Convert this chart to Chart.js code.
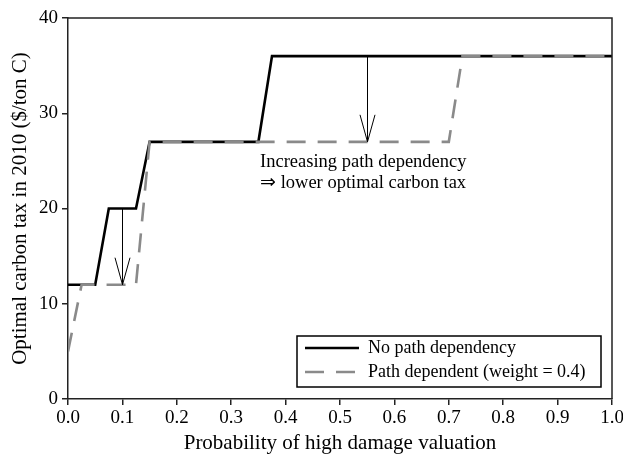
<!DOCTYPE html>
<html>
<head>
<meta charset="utf-8">
<script src="https://cdn.jsdelivr.net/npm/chart.js@4/dist/chart.umd.min.js"></script>
<style>
  html, body { margin: 0; padding: 0; background: #fff; }
  #chart { display: block; }
</style>
</head>
<body>
<canvas id="chart" width="623" height="456"></canvas>
<script>
// ── Dados ─────────────────────────────────────────────────────────────────────
const noPathX = [0, 0.05, 0.075, 0.125, 0.15, 0.35, 0.375, 1.0];
const noPathY = [12, 12, 20, 20, 27, 27, 36, 36];

const pathDepX = [0, 0.025, 0.125, 0.15, 0.70, 0.725, 1.0];
const pathDepY = [5, 12, 12, 27, 27, 36, 36];

const xTicks = [0, 0.1, 0.2, 0.3, 0.4, 0.5, 0.6, 0.7, 0.8, 0.9, 1.0];
const yTicks = [0, 10, 20, 30, 40];

// setas: x, de, até
const arrows = [
  { x: 0.10, from: 20, to: 12 },
  { x: 0.55, from: 36, to: 27 },
];

const noteLines = ['Increasing path dependency', '\u21D2 lower optimal carbon tax'];
const noteAt = { x: 0.353, y: [24.9, 22.7] };

const FONT = 'Liberation Serif, Times New Roman, serif';
const AXIS = '#222';
const GRAY = '#8a8a8a';

// ── Plugin: moldura, setas, texto e legenda ──────────────────────────────────
const extras = {
  id: 'extras',
  afterDatasetsDraw(chart) {
    const { ctx, chartArea: a, scales: { x, y } } = chart;
    ctx.save();

    // moldura superior / direita
    ctx.strokeStyle = AXIS;
    ctx.lineWidth = 1.5;
    ctx.beginPath();
    ctx.moveTo(a.left, a.top);
    ctx.lineTo(a.right, a.top);
    ctx.lineTo(a.right, a.bottom);
    ctx.stroke();

    // setas
    ctx.strokeStyle = '#000';
    ctx.lineWidth = 1;
    arrows.forEach(ar => {
      const px = Math.round(x.getPixelForValue(ar.x)) + 0.5;
      const y0 = y.getPixelForValue(ar.from);
      const y1 = y.getPixelForValue(ar.to);
      ctx.beginPath();
      ctx.moveTo(px, y0);
      ctx.lineTo(px, y1);
      ctx.moveTo(px - 7.5, y1 - 27);
      ctx.lineTo(px, y1);
      ctx.lineTo(px + 7.5, y1 - 27);
      ctx.stroke();
    });

    // anotação
    ctx.fillStyle = '#000';
    ctx.font = '18.5px ' + FONT;
    ctx.textBaseline = 'middle';
    ctx.textAlign = 'left';
    noteLines.forEach((t, i) => {
      ctx.fillText(t, x.getPixelForValue(noteAt.x), y.getPixelForValue(noteAt.y[i]));
    });

    // legenda
    const lx = 297, ly = 336, lw = 304, lh = 51;
    ctx.fillStyle = '#fff';
    ctx.fillRect(lx, ly, lw, lh);
    ctx.strokeStyle = '#000';
    ctx.lineWidth = 1.5;
    ctx.strokeRect(lx, ly, lw, lh);
    ctx.font = '18px ' + FONT;
    chart.data.datasets.slice().sort((p, q) => p.legendIdx - q.legendIdx).forEach((ds, i) => {
      const ry = ly + 12 + i * 24;
      ctx.strokeStyle = ds.borderColor;
      ctx.lineWidth = ds.borderWidth;
      ctx.setLineDash(ds.borderDash || []);
      ctx.beginPath();
      ctx.moveTo(lx + 8, ry);
      ctx.lineTo(lx + 62, ry);
      ctx.stroke();
      ctx.setLineDash([]);
      ctx.fillStyle = '#000';
      ctx.fillText(ds.label, lx + 71, ry);
    });

    ctx.restore();
  },
};

// ── Gráfico ───────────────────────────────────────────────────────────────────
new Chart(document.getElementById('chart'), {
  type: 'line',
  data: {
    datasets: [
      {
        label: 'No path dependency',
        legendIdx: 0,
        data: noPathX.map((v, i) => ({ x: v, y: noPathY[i] })),
        borderColor: '#000',
        borderWidth: 2.6,
        order: 2,
      },
      {
        label: 'Path dependent (weight = 0.4)',
        legendIdx: 1,
        data: pathDepX.map((v, i) => ({ x: v, y: pathDepY[i] })),
        borderColor: GRAY,
        borderWidth: 2.6,
        borderDash: [19, 12],
        order: 1,
      },
    ],
  },
  options: {
    responsive: false,
    animation: false,
    layout: { padding: { top: 18, right: 11, left: 0, bottom: 0 } },
    elements: {
      point: { radius: 0 },
      line: { tension: 0, fill: false, borderCapStyle: 'butt', borderJoinStyle: 'miter' },
    },
    plugins: { legend: { display: false }, tooltip: { enabled: false } },
    scales: {
      x: {
        type: 'linear',
        min: 0,
        max: 1,
        afterBuildTicks: s => { s.ticks = xTicks.map(v => ({ value: v })); },
        afterFit: s => { s.height = 57; s.paddingLeft = 0; s.paddingRight = 0; },
        ticks: {
          padding: 2,
          color: '#000',
          font: { family: FONT, size: 19 },
          maxRotation: 0,
          callback: v => Number(v).toFixed(1),
        },
        grid: { drawOnChartArea: false, drawTicks: true, tickLength: 6, color: AXIS, lineWidth: 1.5 },
        border: { color: AXIS, width: 1.5 },
        title: {
          display: true,
          text: 'Probability of high damage valuation',
          color: '#000',
          font: { family: FONT, size: 21 },
          padding: { top: 0, bottom: 0 },
        },
      },
      y: {
        min: 0,
        max: 40,
        afterBuildTicks: s => { s.ticks = yTicks.map(v => ({ value: v })); },
        afterFit: s => { s.width = 68; s.paddingTop = 0; s.paddingBottom = 0; },
        ticks: {
          padding: 4,
          color: '#000',
          font: { family: FONT, size: 19 },
        },
        grid: { drawOnChartArea: false, drawTicks: true, tickLength: 6, color: AXIS, lineWidth: 1.5 },
        border: { color: AXIS, width: 1.5 },
        title: {
          display: true,
          text: 'Optimal carbon tax in 2010 ($/ton C)',
          color: '#000',
          font: { family: FONT, size: 21 },
          padding: { top: 8, bottom: 0 },
        },
      },
    },
  },
  plugins: [extras],
});
</script>
</body>
</html>
